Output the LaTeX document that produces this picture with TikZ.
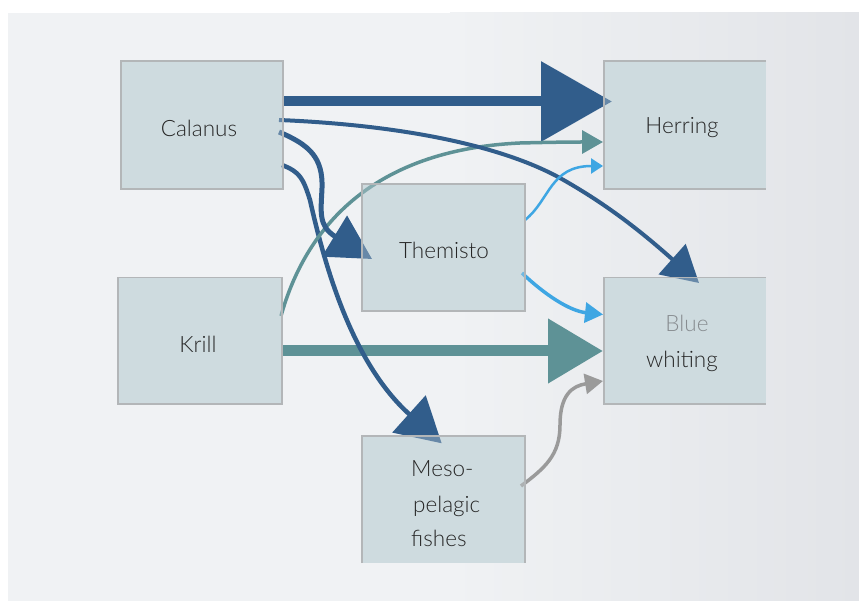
\documentclass[tikz,border=0pt]{standalone}
\usepackage{fontspec}
\setmainfont{Lato Light}
\usetikzlibrary{arrows.meta}
\definecolor{bgL}{HTML}{F0F2F4}
\definecolor{bgR}{HTML}{E2E4E8}
\definecolor{boxfill}{HTML}{CEDBDF}
\definecolor{boxline}{HTML}{B3B6B8}
\definecolor{darkblue}{HTML}{315D8B}
\definecolor{teal}{HTML}{5E9296}
\definecolor{lightblue}{HTML}{3EA6E3}
\definecolor{flowgray}{HTML}{9A9A9A}
\definecolor{txt}{HTML}{262626}
\definecolor{txtgray}{HTML}{878C90}
\begin{document}
\begin{tikzpicture}[x=1pt,y=-1pt,
  box/.style={rectangle,inner sep=0pt,outer sep=0pt,fill=boxfill,draw=none},
  veil/.style={fill=boxfill,fill opacity=0.35},
  rim/.style={draw=boxline,line width=1.4pt},
  lbl/.style={text=txt,font=\fontsize{22.5}{26}\selectfont,inner sep=0pt,anchor=base},
  flow/.style={line join=miter,line cap=butt}
]
\useasboundingbox (0,0) rectangle (859,601);
\fill[white] (0,0) rectangle (859,601);
\fill[bgL] (8,13) rectangle (859,601);
\shade[left color=bgL,right color=bgR] (450,13) rectangle (859,601);

% boxes
\node[box,minimum width=162pt,minimum height=128pt] (calanus) at (202,125) {};
\node[box,minimum width=162pt,minimum height=128pt] (herring) at (685,125) {};
\node[box,minimum width=163pt,minimum height=127pt] (themisto) at (443.5,247.5) {};
\node[box,minimum width=164pt,minimum height=126.5pt] (krill) at (200,340.75) {};
\node[box,minimum width=162pt,minimum height=126.5pt] (bluew) at (685,340.75) {};
\node[box,minimum width=163pt,minimum height=127pt] (meso) at (443.5,499.5) {};

% connector end points
\coordinate (cal-e1) at (283,101.5);
\coordinate (her-w1) at (612,101.5);
\coordinate (kri-e1) at (281,351);
\coordinate (blu-w1) at (603,351);
\coordinate (cal-e2) at (279,120);
\coordinate (blu-n1) at (699,283);
\coordinate (cal-e3) at (279,132);
\coordinate (the-w1) at (372,259);
\coordinate (cal-e4) at (282,165);
\coordinate (mes-n1) at (441.7,443.3);
\coordinate (kri-e2) at (281,316);
\coordinate (her-w2) at (603,142);
\coordinate (the-e1) at (525,220);
\coordinate (her-w3) at (603,166);
\coordinate (the-e2) at (522,273);
\coordinate (blu-w2) at (603,314.5);
\coordinate (mes-e1) at (521,486);
\coordinate (blu-w3) at (603,381);

% flows
\draw[flow,darkblue,line width=10pt,-{Triangle[length=71pt,width=78pt]}] (cal-e1) -- (her-w1);
\draw[flow,teal,line width=11pt,-{Triangle[length=55pt,width=62pt]}] (kri-e1) -- (blu-w1);
\draw[flow,darkblue,line width=4.5pt,-{Triangle[length=44pt,width=49pt]}]
  (cal-e4) .. controls (300,172) and (303,178) .. (310,200)
  .. controls (330,290) and (360,370) .. (mes-n1);
\draw[flow,teal,line width=3.5pt,-{Triangle[length=21pt,width=23pt]}]
  (kri-e2) .. controls (305,230) and (370,150) .. (520,143)
  .. controls (560,142) and (580,142) .. (her-w2);
\draw[flow,darkblue,line width=5pt,-{Triangle[length=44pt,width=47pt]}]
  (cal-e3) .. controls (310,145) and (323,158) .. (322,188)
  .. controls (321,212) and (318,226) .. (the-w1);
\draw[flow,darkblue,line width=4pt,-{Triangle[length=36pt,width=40pt]}]
  (cal-e2) .. controls (400,125) and (500,145) .. (560,178)
  .. controls (610,206) and (645,235) .. (blu-n1);
\draw[flow,lightblue,line width=2.5pt,-{Triangle[length=12pt,width=15pt]}]
  (the-e1) .. controls (550,200) and (550,166) .. (her-w3);
\draw[flow,lightblue,line width=3.5pt,-{Triangle[length=18pt,width=20pt]}]
  (the-e2) .. controls (545,295) and (570,311) .. (blu-w2);
\draw[flow,flowgray,line width=3.5pt,-{Triangle[length=18pt,width=20pt]}]
  (mes-e1) .. controls (545,468) and (560,455) .. (560,425)
  .. controls (560,395) and (572,386) .. (blu-w3);

% veils over the boxes
\foreach \b in {calanus,herring,themisto,krill,bluew,meso}
  \fill[veil] (\b.north west) rectangle (\b.south east);

% box borders
\draw[rim] (calanus.north west) rectangle (calanus.south east);
\draw[rim] (themisto.north west) rectangle (themisto.south east);
\draw[rim] (krill.north west) rectangle (krill.south east);
\draw[rim] (herring.north east) -- (herring.north west) -- (herring.south west) -- (herring.south east);
\draw[rim] (bluew.north east) -- (bluew.north west) -- (bluew.south west) -- (bluew.south east);
\draw[rim] (meso.south west) -- (meso.north west) -- (meso.north east) -- (meso.south east);

% labels
\node[lbl] (calanus-l) at (199,136.8) {Calanus};
\node[lbl] (herring-l) at (682,134) {Herring};
\node[lbl] (themisto-l) at (444,259) {Themisto};
\node[lbl] (krill-l) at (198,352.6) {Krill};
\node[lbl,text=txtgray] (bluew-l1) at (687,331.7) {Blue};
\node[lbl] (bluew-l2) at (682,367.3) {whiting};
\node[lbl,anchor=base west] (meso-l1) at (411,476.7) {Meso-};
\node[lbl,anchor=base west] (meso-l2) at (413,512.7) {pelagic};
\node[lbl,anchor=base west] (meso-l3) at (411,546.7) {fishes};
\end{tikzpicture}
\end{document}
